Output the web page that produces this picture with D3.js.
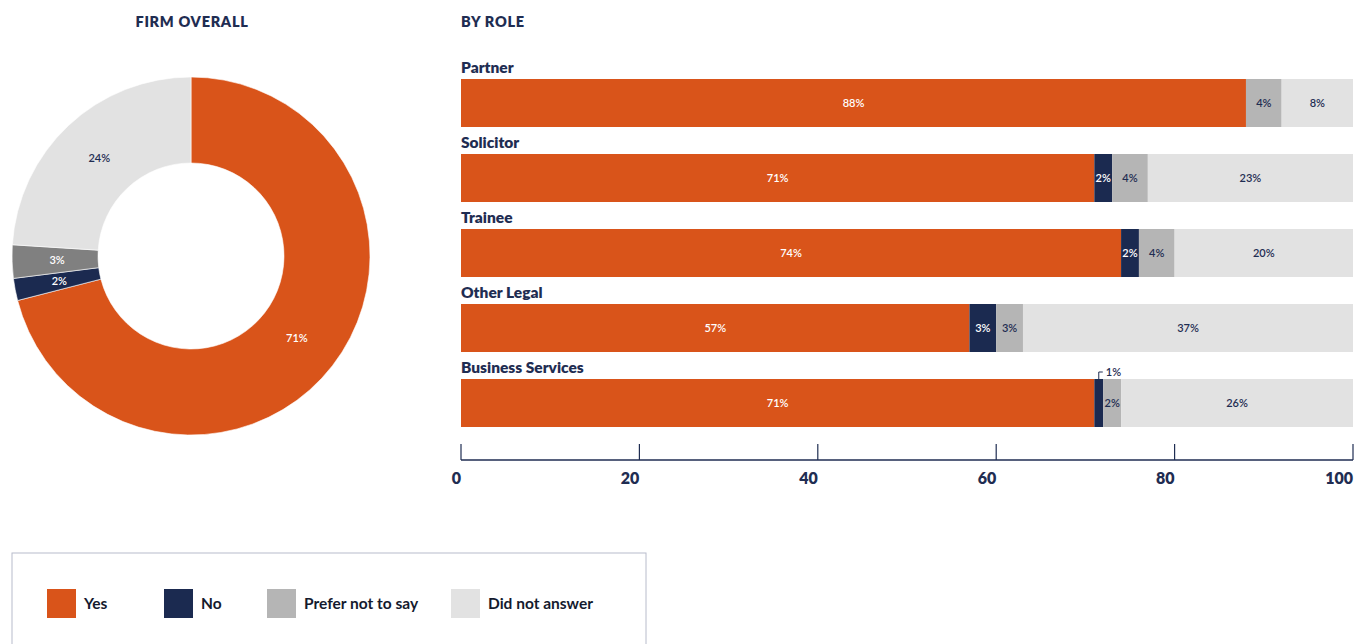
<!DOCTYPE html>
<html><head><meta charset="utf-8">
<script src="https://cdn.jsdelivr.net/npm/d3@7"></script>
<style>
html,body{margin:0;padding:0;background:#fff;}
svg{display:block;font-family:Lato,"Open Sans",sans-serif;}
</style></head>
<body>
<svg id="c" width="1367" height="644"></svg>
<script>
const responses = ["Yes","No","Prefer not to say","Did not answer"];
const donutColors = ["#d9541a","#1b2a50","#808080","#e2e2e2"];
const barColors = ["#d9541a","#1b2a50","#b5b5b5","#e2e2e2"];
const donutLabelColors = ["#ffffff","#ffffff","#ffffff","#1f2d52"];
const labelColors = ["#ffffff","#ffffff","#1f2d52","#1f2d52"];
const firmOverall = [71,2,3,24];
const roles = ["Partner","Solicitor","Trainee","Other Legal","Business Services"];
const yesVals = [88,71,74,57,71];
const noVals = [0,2,2,3,1];
const preferVals = [4,4,4,3,2];
const dnaVals = [8,23,20,37,26];
const axisTicks = [0,20,40,60,80,100];

const navy = "#1f2d52";
const svg = d3.select("#c");

// Titles
svg.append("text").attr("x",192).attr("y",27).attr("text-anchor","middle")
  .attr("fill",navy).attr("font-size",14.5).attr("font-weight",800).attr("letter-spacing",0.7).text("FIRM OVERALL");
svg.append("text").attr("x",461).attr("y",27).attr("text-anchor","start")
  .attr("fill",navy).attr("font-size",14.5).attr("font-weight",800).attr("letter-spacing",0.7).text("BY ROLE");

// Donut
const cx=191, cy=256, R=179, r=93;
const pie = d3.pie().sort(null).value(d=>d);
const arcs = pie(firmOverall);
const arc = d3.arc().innerRadius(r).outerRadius(R);
const g = svg.append("g").attr("transform",`translate(${cx},${cy})`);
g.selectAll("path").data(arcs).join("path").attr("d",arc)
  .attr("fill",(d,i)=>donutColors[i]).attr("stroke","#fff").attr("stroke-width",0.6);
const lblArc = d3.arc().innerRadius(134).outerRadius(134);
g.selectAll("text").data(arcs).join("text")
  .attr("transform",d=>`translate(${lblArc.centroid(d)})`)
  .attr("text-anchor","middle").attr("dy","0.35em")
  .attr("font-size",11).attr("font-weight",600)
  .attr("fill",(d,i)=>donutLabelColors[i])
  .text(d=>d.data+"%");

// Bars
const x = d3.scaleLinear().domain([0,100]).range([461,1353]);
const y = d3.scaleBand().domain(roles).range([79,427]).paddingInner(27/75).paddingOuter(0);
const bh = y.bandwidth();
const yPos = i => y(roles[i]);
const series = [yesVals,noVals,preferVals,dnaVals];
const bg = svg.append("g");
roles.forEach((role,i)=>{
  bg.append("text").attr("x",461).attr("y",yPos(i)-6).attr("fill",navy)
    .attr("font-size",15.5).attr("font-weight",800).text(role);
  let cum=0;
  series.forEach((s,k)=>{
    const v=s[i];
    const x0=x(cum), x1=x(cum+v);
    cum+=v;
    if(v<=0) return;
    bg.append("rect").attr("x",x0).attr("y",yPos(i)).attr("width",x1-x0).attr("height",bh).attr("fill",barColors[k]);
    if(v<=1){
      const mx=(x0+x1)/2;
      bg.append("path").attr("d",`M${mx},${yPos(i)} V${yPos(i)-7} H${mx+4}`)
        .attr("fill","none").attr("stroke",navy).attr("stroke-width",1);
      bg.append("text").attr("x",mx+7).attr("y",yPos(i)-7).attr("dy","0.35em")
        .attr("font-size",11).attr("font-weight",600).attr("fill",navy).text(v+"%");
    } else {
      bg.append("text").attr("x",(x0+x1)/2).attr("y",yPos(i)+bh/2).attr("dy","0.35em")
        .attr("text-anchor","middle").attr("font-size",11).attr("font-weight",600)
        .attr("fill",labelColors[k]).text(v+"%");
    }
  });
});

// Axis
const axisY = 460;
const axis = svg.append("g").attr("transform",`translate(0,${axisY})`);
axis.append("line").attr("x1",x(0)).attr("x2",x(100)).attr("y1",0).attr("y2",0)
  .attr("stroke",navy).attr("stroke-width",1.5);
axisTicks.forEach(t=>{
  axis.append("line").attr("x1",x(t)).attr("x2",x(t)).attr("y1",0).attr("y2",-16)
    .attr("stroke",navy).attr("stroke-width",1.2);
  axis.append("text").attr("x",x(t)).attr("y",24).attr("text-anchor","end")
    .attr("fill",navy).attr("font-size",16).attr("font-weight",800).text(t);
});

// Legend
svg.append("rect").attr("x",12).attr("y",553).attr("width",634).attr("height",120)
  .attr("fill","none").attr("stroke","#b8bccb").attr("stroke-width",1);
const legX = [47,164,267,451];
responses.forEach((name,i)=>{
  svg.append("rect").attr("x",legX[i]).attr("y",589).attr("width",29).attr("height",29).attr("fill",barColors[i]);
  svg.append("text").attr("x",legX[i]+37).attr("y",603.5).attr("dy","0.35em")
    .attr("font-size",15.5).attr("font-weight",700).attr("fill","#141a2e").text(name);
});
</script>
</body></html>
